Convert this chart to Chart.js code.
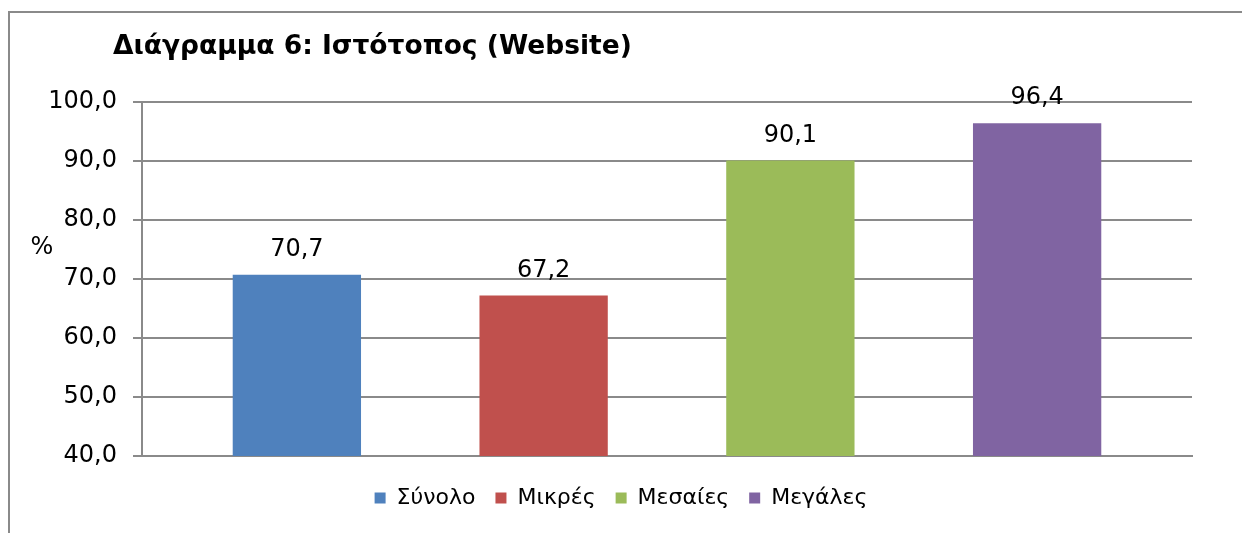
<!DOCTYPE html>
<html>
<head>
  <meta charset="UTF-8">
  <title>Διάγραμμα 6: Ιστότοπος (Website)</title>
  <script src="https://cdn.jsdelivr.net/npm/chart.js"></script>
  <style>
    html, body { margin: 0; padding: 0; background: #fff; overflow: hidden; }
    .wrap { position: relative; width: 1242px; height: 533px; overflow: hidden; }
    .title { position: absolute; left: 113px; top: 29px; font: bold 26.5px "DejaVu Sans", sans-serif; color: #000; white-space: nowrap; }
    canvas { position: absolute; left: 0; top: 0; display: block; }
  </style>
</head>
<body>
  <div class="wrap">
    <canvas id="chart" width="1242" height="533"></canvas>
    <div class="title">Διάγραμμα 6: Ιστότοπος (Website)</div>
  </div>

  <script>
    // data
    const seriesNames = ['Σύνολο', 'Μικρές', 'Μεσαίες', 'Μεγάλες'];
    const seriesValues = [70.7, 67.2, 90.1, 96.4];
    const seriesColors = ['#4F81BD', '#C0504D', '#9BBB59', '#8064A2'];
    const yTicks = [40, 50, 60, 70, 80, 90, 100];

    const FONT = '"DejaVu Sans", sans-serif';
    const fmt = v => v.toFixed(1).replace('.', ',');

    // outer frame (only left and top edges are visible in the crop)
    const framePlugin = {
      id: 'frame',
      beforeDraw(chart) {
        const ctx = chart.ctx;
        ctx.save();
        ctx.strokeStyle = '#8a8a8a';
        ctx.lineWidth = 2;
        ctx.beginPath();
        ctx.moveTo(9, chart.height);
        ctx.lineTo(9, 12);
        ctx.lineTo(chart.width, 12);
        ctx.stroke();
        ctx.restore();
      }
    };

    // value labels above bars + the "%" axis label
    const labelsPlugin = {
      id: 'barLabels',
      afterDatasetsDraw(chart) {
        const ctx = chart.ctx;
        ctx.save();
        ctx.font = '24px ' + FONT;
        ctx.fillStyle = '#000';
        ctx.textAlign = 'center';
        ctx.textBaseline = 'middle';
        chart.data.datasets.forEach((ds, i) => {
          const bar = chart.getDatasetMeta(i).data[0];
          ctx.fillText(fmt(ds.data[0]), bar.x, bar.y - 25);
        });
        ctx.fillText('%', 42, 248);
        ctx.restore();
      }
    };

    new Chart(document.getElementById('chart'), {
      type: 'bar',
      data: {
        labels: [''],
        datasets: seriesNames.map((name, i) => ({
          label: name,
          data: [seriesValues[i]],
          backgroundColor: seriesColors[i],
          borderWidth: 0,
          categoryPercentage: 0.94,
          barPercentage: 0.52
        }))
      },
      options: {
        responsive: false,
        animation: false,
        layout: { padding: { left: 0, top: 102, right: 0, bottom: 14 } },
        plugins: {
          title: { display: false },
          tooltip: { enabled: false },
          legend: {
            position: 'bottom',
            labels: {
              boxWidth: 11,
              boxHeight: 11,
              padding: 20,
              color: '#000',
              font: { family: FONT, size: 22 }
            }
          }
        },
        scales: {
          x: {
            ticks: { display: false },
            grid: { display: false },
            border: { display: true, color: '#8a8a8a', width: 2 },
            afterFit(scale) { scale.height = 11; }
          },
          y: {
            min: 40,
            max: 100,
            afterBuildTicks(scale) { scale.ticks = yTicks.map(v => ({ value: v })); },
            ticks: {
              callback: v => fmt(v),
              color: '#000',
              padding: 16,
              font: { family: FONT, size: 24 }
            },
            grid: { color: '#8a8a8a', lineWidth: 2, tickLength: 9 },
            border: { display: true, color: '#8a8a8a', width: 2 },
            afterFit(scale) { scale.width = 142; }
          },
          // empty right-hand spacer so the plot ends where the original does
          // while the legend stays centred on the whole canvas
          spacer: {
            type: 'linear',
            position: 'right',
            ticks: { display: false },
            grid: { display: false },
            border: { display: false },
            afterFit(scale) { scale.width = 50; }
          }
        }
      },
      plugins: [framePlugin, labelsPlugin]
    });
  </script>
</body>
</html>
